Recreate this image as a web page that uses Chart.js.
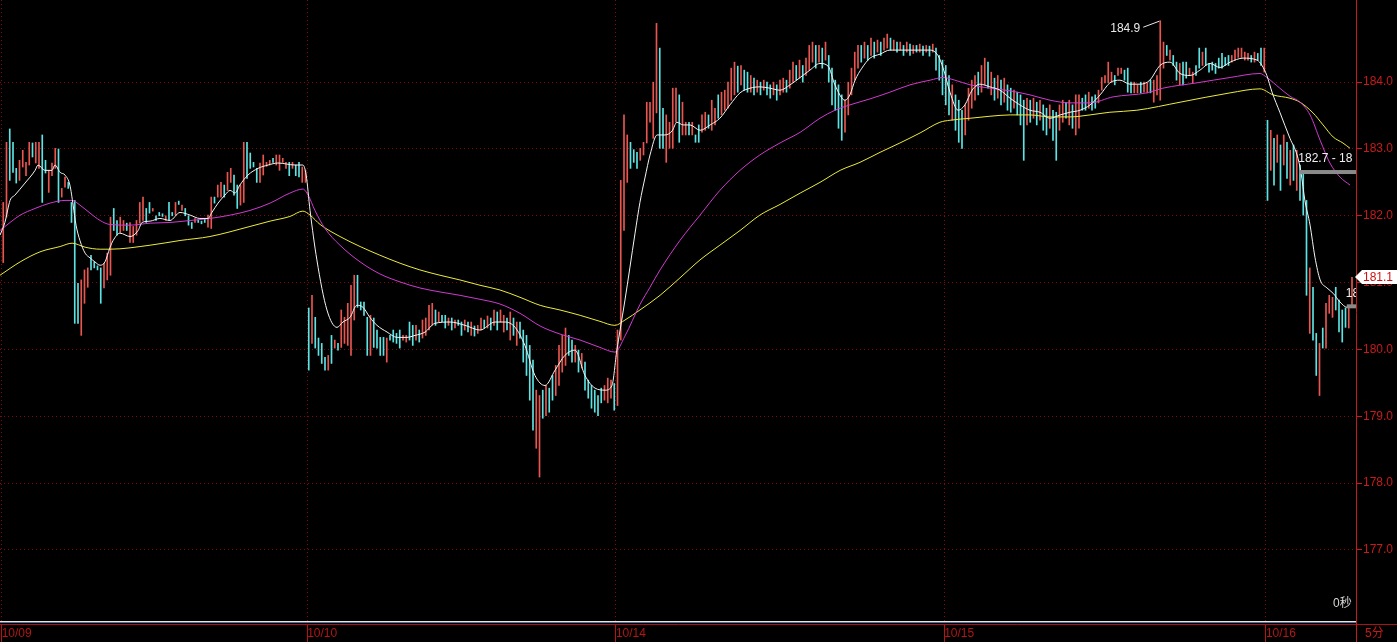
<!DOCTYPE html>
<html>
<head>
<meta charset="utf-8">
<script src="https://cdn.jsdelivr.net/npm/chart.js@4.4.1/dist/chart.umd.min.js"></script>
<style>
html, body { margin: 0; padding: 0; background: #000; }
#wrap { width: 1397px; height: 642px; position: relative; }
</style>
</head>
<body>
<div id="wrap"><canvas id="priceChart"></canvas></div>
<script>
// bar highs / lows per session, 'r' = up bar (red), 'c' = down bar (cyan)
const hi1009 = [182.2,183.1,183.3,183.1,182.71,182.83,182.98,182.8,183.1,183.09,
  183.1,183.1,183.21,182.83,182.68,182.79,183.01,183.0,182.41,182.58,
  182.5,182.2,182.23,180.99,181.04,181.19,181.22,181.41,181.31,181.25,
  181.22,181.29,181.44,181.98,182.11,181.93,181.98,181.93,181.89,181.9,
  181.84,181.93,182.2,182.28,182.11,182.2,182.11,182.0,182.05,182.03,
  182.0,182.2,182.05,182.2,182.22,182.16,182.11,182.0,181.9,181.96,
  181.94,181.92,181.95,182.01,182.28,182.28,182.46,182.5,182.46,182.65,
  182.71,182.61,182.46,182.46,183.1,183.1,182.94,182.8,182.71,182.79,
  182.91,182.8,182.83,182.86,182.91,182.91,182.86,182.8,182.8,182.8,
  182.76,182.8,182.73,182.68];
const lo1009 = [181.3,181.98,182.53,182.65,182.49,182.53,182.73,182.6,182.76,182.88,
  182.79,182.71,182.2,182.64,182.35,182.6,182.71,182.2,182.28,182.43,
  182.41,181.9,180.39,180.39,180.21,180.69,180.93,181.19,181.22,181.19,
  180.69,180.92,181.04,181.11,181.78,181.71,181.75,181.78,181.78,181.6,
  181.6,181.71,181.89,181.93,181.9,182.04,182.07,181.93,182.0,181.99,
  181.93,181.93,182.0,182.01,182.17,182.08,182.0,181.86,181.81,181.9,
  181.9,181.88,181.9,181.83,181.81,182.19,182.28,182.28,182.28,182.38,
  182.5,182.31,182.11,182.16,182.2,182.56,182.71,182.73,182.5,182.5,
  182.61,182.74,182.76,182.8,182.76,182.68,182.8,182.71,182.6,182.71,
  182.6,182.58,182.5,182.5];
const ud1009 = 'rrcccrrrrc' + 'rrccrrrcrr' + 'ccccrrrccc' + 'crrrccrrcr' + 'rrrrccrccc' +
  'rccrcrcccr' + 'cccrrcrrcr' + 'rccrrccccr' + 'rrrcrrrrcr' + 'ccrr';

const hi1010 = [180.62,180.81,180.48,180.17,180.09,179.88,179.91,180.21,180.14,180.09,
  180.59,180.48,180.69,180.96,181.11,181.11,180.71,180.71,180.48,180.51,
  180.47,180.29,180.18,180.18,180.17,180.21,180.29,180.24,180.29,180.21,
  180.21,180.41,180.36,180.36,180.29,180.44,180.47,180.66,180.69,180.59,
  180.56,180.51,180.51,180.47,180.47,180.44,180.44,180.41,180.44,180.41,
  180.41,180.35,180.36,180.47,180.44,180.5,180.47,180.59,180.56,180.59,
  180.51,180.47,180.56,180.47,180.41,180.41,180.29,180.21,180.06,179.84,
  179.39,179.31,179.39,179.46,179.42,179.61,179.76,180.06,180.21,180.32,
  180.21,180.14,180.06,179.99,179.94,179.81,179.54,179.46,179.39,179.31,
  179.42,179.46,179.57,179.54,179.49];
const lo1010 = [179.69,180.09,180.02,179.91,179.79,179.69,179.69,179.79,180.02,179.99,
  180.03,180.09,180.06,179.91,180.44,180.63,180.59,180.51,179.91,179.91,
  180.03,180.02,179.91,179.91,179.81,180.14,180.11,180.09,180.02,180.14,
  180.11,180.14,180.06,180.14,180.11,180.17,180.21,180.29,180.36,180.36,
  180.41,180.41,180.32,180.36,180.29,180.32,180.36,180.21,180.29,180.26,
  180.21,180.2,180.24,180.29,180.32,180.32,180.29,180.36,180.29,180.41,
  180.26,180.29,180.14,180.21,180.06,180.17,179.81,179.61,179.24,178.79,
  178.52,178.09,178.97,179.01,179.06,179.24,179.31,179.46,179.66,179.76,
  179.91,179.81,179.81,179.66,179.72,179.39,179.27,179.12,179.06,179.01,
  179.2,179.24,179.2,179.27,179.09];
const ud1010 = 'crccccrcrc' + 'rrrrrccccr' + 'ccccrccccr' + 'rccrcrrrrc' + 'rccrcrccrc' +
  'rcrrcrcrcr' + 'rcrcrccccc' + 'rrcrccrrrr' + 'ccrcrccccc' + 'crrrc';

const hi1014 = [180.29,182.53,183.51,183.21,183.1,182.99,182.95,183.01,183.1,183.7,
  183.7,184.0,184.88,184.51,183.61,183.51,183.4,183.91,183.91,183.81,
  183.7,183.4,183.4,183.4,183.21,183.36,183.51,183.55,183.51,183.73,
  183.61,183.81,183.85,183.88,184.0,184.21,184.3,184.24,184.25,184.18,
  184.15,184.1,184.06,184.03,184.0,184.03,184.0,183.96,184.0,183.96,
  184.03,184.06,184.03,184.18,184.3,184.25,184.33,184.25,184.36,184.55,
  184.6,184.55,184.55,184.51,184.6,184.4,184.21,184.03,183.96,183.81,
  183.73,184.0,184.21,184.45,184.55,184.55,184.6,184.55,184.66,184.6,
  184.63,184.6,184.66,184.72,184.66,184.63,184.6,184.6,184.55,184.6,
  184.57,184.55,184.55,184.57,184.54,184.55,184.54,184.57,184.51,184.4,
  184.33];
const lo1014 = [179.16,180.14,181.78,182.5,182.71,182.8,182.71,182.83,182.91,183.09,
  183.4,183.16,183.54,183.01,183.01,182.8,183.01,183.01,183.4,183.1,
  183.21,183.21,183.21,183.21,183.1,183.1,183.25,183.28,183.31,183.28,
  183.36,183.46,183.51,183.58,183.61,183.73,183.81,183.85,183.96,183.88,
  183.85,183.85,183.81,183.85,183.81,183.88,183.81,183.76,183.81,183.73,
  183.81,183.85,183.85,183.91,184.0,184.03,184.06,184.0,184.1,184.18,
  184.3,184.21,184.3,184.21,184.33,184.0,183.66,183.58,183.31,183.13,
  183.25,183.51,183.81,184.03,184.21,184.3,184.36,184.33,184.4,184.36,
  184.45,184.4,184.48,184.51,184.48,184.48,184.45,184.48,184.4,184.45,
  184.4,184.43,184.45,184.45,184.4,184.45,184.39,184.45,184.18,184.03,
  183.81];
const ud1014 = 'rrrrcccrrr' + 'rrrccrrrrc' + 'rrcrccrrcr' + 'rcrrrrrcrc' + 'crcrcrccrc' +
  'rrcrrcrcrr' + 'rcrcrccccc' + 'rrrrrcrcrc' + 'rcrrcrcrcr' + 'crcrcrcrcc' + 'c';

const hi1015 = [184.25,184.1,183.96,183.81,183.73,183.58,183.66,183.91,184.03,184.1,
  184.15,184.25,184.36,184.3,184.15,184.06,184.1,184.03,184.06,183.96,
  183.91,183.88,183.85,183.81,183.73,183.76,183.73,183.76,183.7,183.73,
  183.66,183.61,183.66,183.58,183.55,183.66,183.73,183.7,183.73,183.66,
  183.81,183.81,183.76,183.81,183.85,183.78,183.81,183.88,184.07,184.1,
  184.3,184.15,184.1,184.21,184.21,184.18,184.21,184.0,184.0,183.96,
  184.0,184.0,183.99,184.03,184.03,184.1,184.92,184.6,184.55,184.48,
  184.4,184.3,184.28,184.3,184.3,184.21,184.15,184.25,184.51,184.45,
  184.51,184.28,184.3,184.28,184.36,184.43,184.37,184.4,184.4,184.48,
  184.51,184.51,184.45,184.43,184.4,184.45,184.43,184.51,184.51];
const lo1015 = [183.66,183.51,183.43,183.28,183.1,183.01,183.21,183.43,183.61,183.73,
  183.81,183.85,183.96,183.91,183.81,183.73,183.76,183.66,183.7,183.58,
  183.55,183.61,183.51,183.36,182.83,183.36,183.4,183.46,183.36,183.43,
  183.28,183.21,183.31,183.13,182.83,183.28,183.4,183.46,183.36,183.31,
  183.21,183.31,183.58,183.58,183.61,183.58,183.61,183.69,183.88,183.99,
  183.99,184.0,183.96,184.1,184.13,184.03,183.85,183.84,183.84,183.84,
  183.84,183.85,183.84,183.84,183.7,183.81,183.73,184.21,184.4,184.33,
  184.25,184.03,183.96,183.96,184.06,184.1,183.99,184.1,184.21,184.25,
  184.25,184.15,184.18,184.13,184.21,184.21,184.25,184.25,184.3,184.33,
  184.37,184.37,184.33,184.33,184.3,184.3,184.33,184.25,184.15];
const ud1015 = 'ccrcccrrrr' + 'crrcrcrcrc' + 'crcccrcrcr' + 'ccrccrrcrc' + 'rrccrccrrr' +
  'rrcrrcccrr' + 'crrcrrrrcr' + 'ccrccrrccr' + 'ccccccccrr' + 'rrrrcrccr';

const hi1016 = [183.43,183.28,183.16,183.21,183.06,183.21,183.1,182.98,183.06,182.98,
  182.76,182.68,182.23,181.22,180.93,180.24,180.09,180.32,180.69,180.81,
  180.78,180.93,180.74,180.59,180.62,180.63,181.08];
const lo1016 = [182.23,182.68,182.46,182.8,182.38,182.76,182.56,182.46,182.53,182.38,
  182.23,182.01,180.81,180.24,180.14,179.61,179.31,180.02,180.02,180.54,
  180.48,180.59,180.26,180.11,180.33,180.32,180.63];
const ud1016 = 'crcrcrcrcr' + 'cccrccrcrr' + 'rccccrr';

const dayLabels = ['10/09', '10/10', '10/14', '10/15', '10/16'];
const priceTicks = [177, 178, 179, 180, 181, 182, 183, 184];

// moving averages: [bar position, price]
const maWhite = [[0,181.71],[1.5,181.9],[3.1,182.23],[4.6,182.31],[7.7,182.49],[10.8,182.68],[11.7,182.76],
  [13.8,182.68],[16,182.68],[16.9,182.76],[18.5,182.65],[20,182.61],[21.5,182.46],[22.5,182.16],[23.4,181.86],
  [24.6,181.63],[26.2,181.44],[27.7,181.37],[29.2,181.31],[30.8,181.26],[32.3,181.31],[33.8,181.52],[34.8,181.63],
  [36.9,181.74],[40,181.69],[42.5,181.78],[43.7,181.9],[46.2,181.92],[49.2,181.96],[52.3,181.93],[55.4,182.05],
  [58.5,182.01],[61.5,181.96],[64,181.96],[65.2,182.05],[67.1,182.19],[69.2,182.31],[70.8,182.38],[72.3,182.34],
  [73.8,182.46],[76.3,182.61],[79.4,182.71],[82.5,182.76],[85.5,182.79],[90.8,182.76],[93.2,182.76],[94.2,182.61],
  [95.4,182.08],[97.5,181.34],[100.6,180.59],[103.7,180.33],[105.5,180.41],[107.7,180.48],[109.8,180.66],
  [111.7,180.63],[113.8,180.48],[116,180.36],[119.1,180.26],[122.2,180.18],[125.2,180.18],[127.7,180.21],
  [130.8,180.26],[133.8,180.39],[138.5,180.41],[143.1,180.36],[147.7,180.29],[152.3,180.41],[155.4,180.41],
  [158.5,180.33],[161.5,180.06],[164.6,179.61],[167.7,179.46],[170.8,179.69],[173.8,179.91],[176.9,179.99],
  [180,179.61],[183.1,179.42],[186.2,179.39],[188.3,179.46],[189.8,179.99],[190.8,180.29],[192.3,180.74],
  [193.8,181.22],[195.4,181.74],[196.9,182.2],[198.5,182.58],[200,182.91],[202.2,183.21],[204.6,183.21],
  [206.8,183.27],[208.3,183.4],[210.2,183.36],[212.3,183.36],[215.4,183.28],[218.5,183.36],[221.5,183.46],
  [224.6,183.66],[227.7,183.84],[230.8,183.91],[233.8,183.93],[236.9,183.91],[240,183.88],[243.1,183.96],
  [246.2,184.07],[249.2,184.18],[252.3,184.28],[254.8,184.24],[256.9,183.96],[260,183.73],[261.5,183.81],
  [263.1,184.03],[265.2,184.21],[267.7,184.36],[270.8,184.42],[273.8,184.48],[280,184.48],[286.2,184.48],
  [288.6,184.4],[290.2,184.21],[292.3,183.85],[294.8,183.58],[296.9,183.66],[299.1,183.88],[301.5,183.97],
  [304.6,183.93],[307.7,183.88],[310.8,183.76],[313.8,183.66],[316.9,183.58],[320,183.55],[323.1,183.46],
  [326.2,183.51],[329.2,183.55],[332.3,183.58],[335.4,183.66],[338.5,183.81],[341.5,183.99],[344.6,184.03],
  [347.7,183.97],[350.8,183.97],[353.8,184.03],[356.9,184.25],[360,184.3],[363.1,184.13],[366.2,184.1],
  [369.2,184.18],[372.3,184.28],[375.4,184.22],[378.5,184.3],[382.5,184.36],[386.8,184.33],[388.3,184.25],
  [389.8,184.1],[391.4,183.85],[393.8,183.55],[396.9,183.16],[399.1,182.91],[400.3,182.65],[401.5,182.23],
  [403.1,181.86],[404.6,181.38],[406.2,181.04],[408.3,180.92],[410.2,180.84],[412.3,180.71],[414.5,180.63],
  [416,180.66]];
const maMagenta = [[0,181.78],[3.1,181.9],[6.2,182.01],[10.8,182.11],[15.4,182.19],[20,182.23],[22.2,182.23],
  [24.6,182.16],[27.7,182.04],[30.8,181.93],[33.8,181.87],[40,181.86],[46.2,181.89],[52.3,181.9],[58.5,181.93],
  [64.6,181.96],[70.8,182.01],[76.9,182.08],[83.1,182.19],[89.2,182.34],[93.2,182.4],[94.8,182.31],[96.9,182.08],
  [100,181.81],[104.6,181.56],[110.8,181.31],[116.9,181.13],[123.1,181.01],[129.2,180.92],[135.4,180.86],
  [141.5,180.81],[147.7,180.75],[153.8,180.68],[160,180.54],[166.2,180.35],[172.3,180.23],[178.5,180.14],
  [184.6,180.03],[189.2,179.96],[192.3,180.2],[196.9,180.67],[200,180.93],[203.1,181.19],[209.2,181.63],
  [215.4,182.01],[221.5,182.38],[227.7,182.68],[233.8,182.91],[240,183.09],[246.2,183.25],[252.3,183.46],
  [256.9,183.58],[261.5,183.66],[267.7,183.75],[273.8,183.85],[280,183.96],[286.2,184.03],[290.2,184.07],
  [293.8,184.03],[298.5,183.96],[304.6,183.91],[310.8,183.87],[316.9,183.81],[323.1,183.73],[329.2,183.69],
  [335.4,183.69],[342.5,183.78],[352.9,183.84],[357.8,183.91],[368.3,183.99],[378.5,184.07],[387.7,184.13],
  [389.8,184.07],[393.8,183.91],[396.9,183.79],[400,183.7],[403.1,183.51],[406.2,183.13],[409.2,182.79],
  [412.3,182.58],[415.4,182.46]];
const maYellow = [[0,181.11],[6.2,181.31],[12.3,181.46],[18.5,181.54],[22.2,181.59],[26.2,181.53],[30.8,181.5],
  [33.8,181.5],[46.2,181.56],[55.4,181.63],[64.6,181.69],[76.9,181.84],[83.1,181.92],[89.2,181.99],[93.2,182.07],
  [95.4,182.01],[98.5,181.87],[104.6,181.69],[110.8,181.54],[116.9,181.41],[123.1,181.29],[129.2,181.19],
  [135.4,181.11],[141.5,181.04],[147.7,180.96],[153.8,180.89],[160,180.78],[166.2,180.66],[172.3,180.59],
  [178.5,180.51],[184.6,180.42],[189.2,180.36],[192.3,180.44],[196.9,180.59],[203.1,180.81],[209.2,181.07],
  [215.4,181.34],[221.5,181.56],[227.7,181.78],[233.8,182.01],[240,182.17],[246.2,182.34],[252.3,182.5],
  [258.5,182.68],[264.6,182.8],[270.8,182.95],[276.9,183.09],[283.1,183.24],[289.2,183.4],[292.3,183.43],
  [298.5,183.46],[304.6,183.49],[310.8,183.51],[316.9,183.51],[323.1,183.48],[329.2,183.48],[335.4,183.51],
  [341.5,183.55],[349.8,183.58],[363.1,183.7],[378.5,183.84],[387.7,183.9],[391.7,183.81],[396.9,183.76],
  [400,183.7],[404,183.54],[407.1,183.36],[410.2,183.18],[413.2,183.09],[415.4,183.01]];

// drawn price ranges on the right edge
const rangeLevels = [182.67, 180.66];
const rangeFrom = [399.8, 414.4];
const rangeText = ['182.7 - 18', '180.7 - 18'];

const BAR_PX = 3.25;
const PLOT_W = 1356;
const Y_MAX = 185.23;
const Y_MIN = 175.89;
const RED = '#e8564f';
const CYAN = '#5ce4e4';
const AXIS_RED = '#c81a1a';
const GRID_RED = '#7e0b0b';

const sessions = [
  [hi1009, lo1009, ud1009],
  [hi1010, lo1010, ud1010],
  [hi1014, lo1014, ud1014],
  [hi1015, lo1015, ud1015],
  [hi1016, lo1016, ud1016]
];

let bars = [];
let barColors = [];
let dayStart = [];
let idx = 1;
sessions.forEach(s => {
  dayStart.push(idx);
  for (let j = 0; j < s[0].length; j++) {
    bars.push({ x: idx, y: [s[1][j], s[0][j]] });
    barColors.push(s[2][j] === 'r' ? RED : CYAN);
    idx++;
  }
});

function toPoints(arr) {
  return arr.map(p => ({ x: p[0], y: p[1] }));
}

const decor = {
  id: 'decor',
  afterDraw(c) {
    const { ctx, chartArea: a, scales: { x, y } } = c;
    ctx.save();
    // pane separator above the date row
    ctx.fillStyle = '#e6e6e6';
    ctx.fillRect(0, a.bottom - 3, a.right, 1);
    ctx.fillStyle = '#5b6c9c';
    ctx.fillRect(0, a.bottom - 2, a.right, 1);
    ctx.fillStyle = '#a81414';
    ctx.fillRect(a.right, a.bottom, c.width - a.right, 1);
    ctx.fillStyle = AXIS_RED;
    ctx.fillRect(a.right, a.bottom, 1, c.height - a.bottom);

    ctx.font = "12px 'Liberation Sans', 'Noto Sans CJK SC', sans-serif";
    ctx.textBaseline = 'middle';
    ctx.fillStyle = AXIS_RED;
    ctx.textAlign = 'left';
    ctx.fillText('5分', a.right + 9, a.bottom + 10);

    // clipped annotations inside the plot
    ctx.save();
    ctx.beginPath();
    ctx.rect(a.left, a.top, a.right - a.left, a.bottom - a.top);
    ctx.clip();

    // highest bar label
    let maxV = -Infinity, maxI = 0;
    bars.forEach(b => { if (b.y[1] > maxV) { maxV = b.y[1]; maxI = b.x; } });
    const mx = x.getPixelForValue(maxI);
    const my = y.getPixelForValue(maxV);
    ctx.strokeStyle = '#e8e8e8';
    ctx.lineWidth = 1;
    ctx.beginPath();
    ctx.moveTo(mx - 17, my + 6.5);
    ctx.lineTo(mx - 1, my + 0.5);
    ctx.stroke();
    ctx.fillStyle = '#e8e8e8';
    ctx.textAlign = 'right';
    ctx.fillText(maxV.toFixed(1), mx - 20, my + 8);

    rangeLevels.forEach((lv, k) => {
      const ry = y.getPixelForValue(lv);
      const rx = x.getPixelForValue(rangeFrom[k]);
      ctx.fillStyle = '#8a8a8a';
      ctx.fillRect(rx, ry - 1, a.right - rx, 4);
      ctx.fillStyle = '#f0f0f0';
      ctx.textAlign = 'left';
      ctx.fillText(rangeText[k], rx - 1, ry - 12);
    });

    ctx.fillStyle = '#d8d8d8';
    ctx.textAlign = 'left';
    ctx.fillText('0秒', a.right - 23, a.bottom - 20);
    ctx.restore();

    // last price tag
    const last = bars[bars.length - 1].y[1];
    const ly = Math.round(y.getPixelForValue(last));
    ctx.fillStyle = '#ffffff';
    ctx.beginPath();
    ctx.moveTo(a.right - 1, ly);
    ctx.lineTo(a.right + 6, ly - 7);
    ctx.lineTo(c.width, ly - 7);
    ctx.lineTo(c.width, ly + 7);
    ctx.lineTo(a.right + 6, ly + 7);
    ctx.closePath();
    ctx.fill();
    ctx.fillStyle = '#d01010';
    ctx.textAlign = 'left';
    ctx.fillText(last.toFixed(1), a.right + 7, ly + 1);
    ctx.restore();
  }
};

Chart.defaults.font.family = "'Liberation Sans', Arial, sans-serif";
Chart.defaults.font.size = 12;

const ctx = document.getElementById('priceChart').getContext('2d');
const chartInstance = new Chart(ctx, {
  type: 'bar',
  data: {
    datasets: [
      {
        type: 'line',
        data: toPoints(maWhite),
        borderColor: '#f4f4f4',
        borderWidth: 1,
        pointRadius: 0,
        cubicInterpolationMode: 'monotone',
        order: 0
      },
      {
        type: 'line',
        data: toPoints(maMagenta),
        borderColor: '#d03ad0',
        borderWidth: 1,
        pointRadius: 0,
        cubicInterpolationMode: 'monotone',
        order: 1
      },
      {
        type: 'line',
        data: toPoints(maYellow),
        borderColor: '#ecec3c',
        borderWidth: 1,
        pointRadius: 0,
        cubicInterpolationMode: 'monotone',
        order: 2
      },
      {
        type: 'bar',
        data: bars,
        backgroundColor: barColors,
        barThickness: 1,
        grouped: false,
        order: 3
      }
    ]
  },
  options: {
    responsive: true,
    maintainAspectRatio: false,
    animation: false,
    layout: { padding: 0 },
    plugins: {
      legend: { display: false },
      tooltip: { enabled: false }
    },
    scales: {
      x: {
        type: 'linear',
        min: 0,
        max: PLOT_W / BAR_PX,
        offset: false,
        afterBuildTicks: s => { s.ticks = dayStart.map(v => ({ value: v - 0.5 })); },
        afterFit: s => { s.height = 18; s.paddingLeft = 0; s.paddingRight = 0; },
        ticks: {
          color: '#b41616',
          align: 'start',
          padding: -16,
          maxRotation: 0,
          autoSkip: false,
          callback: (v, i) => dayLabels[i]
        },
        grid: {
          offset: false,
          color: GRID_RED,
          tickLength: 18,
          tickColor: '#b41616',
          tickBorderDash: []
        },
        border: { color: '#a81414', dash: [1, 3] }
      },
      y: {
        position: 'right',
        min: Y_MIN,
        max: Y_MAX,
        afterBuildTicks: s => { s.ticks = priceTicks.map(v => ({ value: v })); },
        afterFit: s => { s.width = 41; s.paddingTop = 0; s.paddingBottom = 0; },
        ticks: {
          color: AXIS_RED,
          padding: 1,
          callback: v => v.toFixed(1)
        },
        grid: {
          color: GRID_RED,
          tickLength: 6,
          tickColor: AXIS_RED,
          tickBorderDash: []
        },
        border: { color: AXIS_RED, dash: [1, 3] }
      }
    }
  },
  plugins: [decor]
});
</script>
</body>
</html>
